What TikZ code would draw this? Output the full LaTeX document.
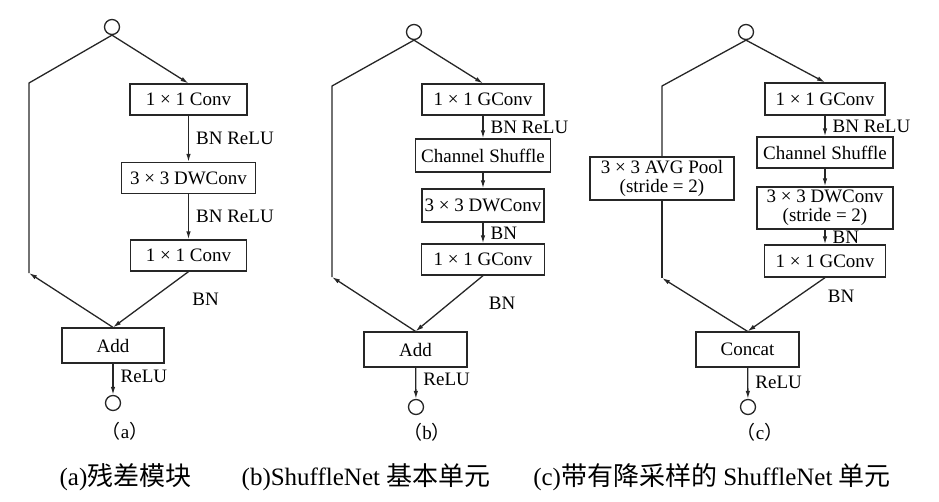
\documentclass[tikz,border=0pt]{standalone}
\usepackage{fontspec}
\setmainfont{Liberation Serif}
\newfontfamily\cjk{Noto Sans CJK SC}
\usetikzlibrary{arrows.meta}

\begin{document}
\begin{tikzpicture}[x=1pt, y=-1pt,
  every node/.style={font=\fontsize{19}{19}\selectfont, align=center, text=black},
  blk/.style={rectangle, draw=black!85, line width=1.3pt, inner sep=1pt,
              minimum height=31pt},
  io/.style={circle, draw=black!85, line width=1.3pt, minimum size=15pt, inner sep=0pt},
  ln/.style={draw=black!85, line width=1.3pt},
  arr/.style={ln, -{Latex[length=8pt,width=4.5pt]}},
  lbl/.style={midway, anchor=west, inner sep=1pt, xshift=6pt},
  dlbl/.style={midway, anchor=west, inner sep=1pt, xshift=40pt},
  sub/.style={font=\fontsize{19}{19}\selectfont},
  captxt/.style={font=\fontsize{25}{25}\selectfont}
]
\useasboundingbox (0,0) rectangle (939,501);

% (a) residual block
\node[io] (inA) at (112, 27) {};
\node[blk, minimum width=117pt] (convA1) at (188.5, 99.5) {1 × 1 Conv};
\node[blk, minimum width=134pt] (dwA)    at (188.5, 178)  {3 × 3 DWConv};
\node[blk, minimum width=116pt] (convA2) at (188.5, 255.5) {1 × 1 Conv};
\node[blk, minimum width=102pt, minimum height=35pt] (addA) at (113, 345.5) {Add};
\node[io] (outA) at (113, 403) {};
\coordinate (skA1) at (29, 83);
\coordinate (skA2) at (29, 273);
\node[sub] (tagA) at (125, 431) {{\cjk （}a{\cjk ）}};
\draw[ln]  (inA.south) -- (skA1) -- (skA2);
\draw[arr] (addA.north) -- (skA2);
\draw[arr] (inA.south) -- (convA1.north);
\draw[arr] (convA1) -- node[lbl] {BN ReLU} (dwA);
\draw[arr] (dwA) -- node[lbl] {BN ReLU} (convA2);
\draw[arr] (convA2.south) -- node[dlbl] {BN} (addA.north);
\draw[arr] (addA) -- node[lbl, yshift=3pt] {ReLU} (outA);

% (b) ShuffleNet unit
\node[io] (inB) at (414, 32) {};
\node[blk, minimum width=122pt] (gcB1) at (483, 99.5) {1 × 1 GConv};
\node[blk, minimum width=135pt, minimum height=33pt] (shB) at (483, 155.5) {Channel Shuffle};
\node[blk, minimum width=122pt, minimum height=33pt] (dwB) at (483, 205.5) {3 × 3 DWConv};
\node[blk, minimum width=123pt] (gcB2) at (483, 259.5) {1 × 1 GConv};
\node[blk, minimum width=103pt, minimum height=35pt] (addB) at (415.5, 349.5) {Add};
\node[io] (outB) at (416, 407) {};
\coordinate (skB1) at (332, 86);
\coordinate (skB2) at (332, 277);
\node[sub] (tagB) at (427, 432) {{\cjk （}b{\cjk ）}};
\draw[ln]  (inB.south) -- (skB1) -- (skB2);
\draw[arr] (addB.north) -- (skB2);
\draw[arr] (inB.south) -- (gcB1.north);
\draw[arr] (gcB1) -- node[lbl] {BN ReLU} (shB);
\draw[arr] (shB) -- (dwB);
\draw[arr] (dwB) -- node[lbl] {BN} (gcB2);
\draw[arr] (gcB2.south) -- node[dlbl, xshift=-2pt] {BN} (addB.north);
\draw[arr] (addB) -- node[lbl, yshift=4pt] {ReLU} (outB);

% (c) ShuffleNet unit with down-sampling
\node[io] (inC) at (746, 32) {};
\node[blk, minimum width=120pt, minimum height=32pt] (gcC1) at (825, 99) {1 × 1 GConv};
\node[blk, minimum width=136pt] (shC) at (825, 152.5) {Channel Shuffle};
\node[blk, minimum width=136pt, minimum height=42pt] (dwC) at (825, 208) {3 × 3 DWConv\\(stride = 2)};
\node[blk, minimum width=121pt, minimum height=32pt] (gcC2) at (825, 261) {1 × 1 GConv};
\node[blk, minimum width=144pt, minimum height=43pt] (pool) at (662, 178.5) {3 × 3 AVG Pool\\(stride = 2)};
\node[blk, minimum width=103pt, minimum height=35pt] (cat) at (747.5, 349.5) {Concat};
\node[io] (outC) at (748, 407) {};
\coordinate (skC1) at (662, 86);
\coordinate (skC2) at (662, 278);
\node[sub] (tagC) at (760, 432) {{\cjk （}c{\cjk ）}};
\draw[ln]  (inC.south) -- (skC1) -- (pool.north);
\draw[ln]  (pool.south) -- (skC2);
\draw[arr] (cat.north) -- (skC2);
\draw[arr] (inC.south) -- (gcC1.north);
\draw[arr] (gcC1) -- node[lbl] {BN ReLU} (shC);
\draw[arr] (shC) -- (dwC);
\draw[arr] (dwC) -- node[lbl] {BN} (gcC2);
\draw[arr] (gcC2.south) -- node[dlbl, yshift=8pt] {BN} (cat.north);
\draw[arr] (cat) -- node[lbl, yshift=1pt] {ReLU} (outC);

% captions
\node[captxt] (capA) at (125.5, 477) {(a){\cjk\fontsize{26}{26}\selectfont 残差模块}};
\node[captxt] (capB) at (366, 477)   {(b)ShuffleNet {\cjk\fontsize{26}{26}\selectfont 基本单元}};
\node[captxt] (capC) at (712, 477)   {(c){\cjk\fontsize{26}{26}\selectfont 带有降采样的} ShuffleNet {\cjk\fontsize{26}{26}\selectfont 单元}};
\end{tikzpicture}
\end{document}
